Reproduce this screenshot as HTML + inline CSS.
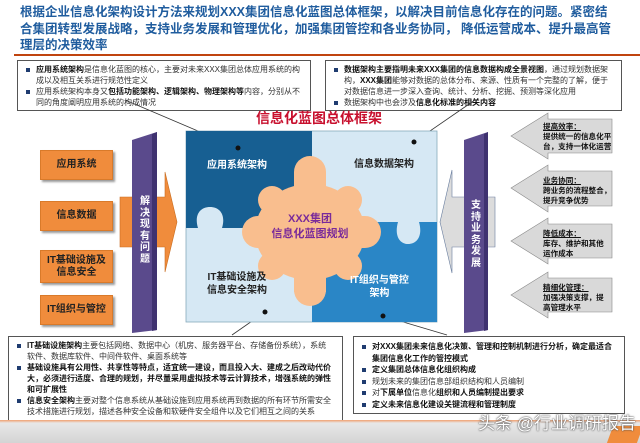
<!DOCTYPE html>
<html><head><meta charset="utf-8"><style>
*{margin:0;padding:0;box-sizing:border-box}
body{width:640px;height:443px;position:relative;background:#fff;font-family:"Liberation Sans","Noto Sans CJK SC",sans-serif;overflow:hidden}
.a{position:absolute}
.title{left:20px;top:4px;width:620px;color:#1f5c9e;font-weight:bold;font-size:12.5px;line-height:16.5px;white-space:nowrap}
.box{border:1px solid #555;background:#fff;font-size:8px;line-height:11px;color:#333;padding:3px 6px 2px 8px}
.box p{position:relative;padding-left:10px}
.box p:before{content:"";position:absolute;left:0;top:4px;width:4px;height:4px;background:#1f3c70}
b{color:#111}
.ob{background:#f08c3c;color:#222;font-weight:bold;font-size:10px;text-align:center;display:flex;align-items:center;justify-content:center;line-height:12px;box-shadow:2px 2px 2px #999;border:1px solid #d97a2a}
.rt{font-size:7.6px;line-height:10px;color:#111;font-weight:bold}
.vt{color:#fff;font-weight:bold;font-size:10px;line-height:11.5px;width:12px;text-align:center}
</style></head><body>
<div class="a title">根据企业信息化架构设计方法来规划XXX集团信息化蓝图总体框架，以解决目前信息化存在的问题。紧密结<br>合集团转型发展战略，支持业务发展和管理优化，加强集团管控和各业务协同， 降低运营成本、提升最高管<br>理层的决策效率</div>
<div class="a" style="left:14px;top:54px;width:626px;height:2px;background:#c0440f"></div>

<div class="a box" style="left:17px;top:60px;width:294px;height:51px"><p><b>应用系统架构</b>是信息化蓝图的核心，主要对未来XXX集团总体应用系统的构成以及相互关系进行规范性定义</p><p>应用系统架构本身又<b>包括功能架构、逻辑架构、物理架构等</b>内容，分别从不同的角度阐明应用系统的构成情况</p></div>
<div class="a box" style="left:325px;top:60px;width:297px;height:51px"><p><b>数据架构主要指明未来XXX集团的信息数据构成全景视图</b>，通过规划数据架构，<b>XXX集团</b>能够对数据的总体分布、来源、性质有一个完整的了解，便于对数据信息进一步深入查询、统计、分析、挖掘、预测等深化应用</p><p>数据架构中也会涉及<b>信息化标准的相关内容</b></p></div>

<div class="a" style="left:256px;top:108px;color:#c8102e;font-weight:bold;font-size:14px">信息化蓝图总体框架</div>

<svg class="a" style="left:0;top:0" width="640" height="443">
<line x1="125" y1="100" x2="238" y2="148" stroke="#333" stroke-width="0.8"/>
<line x1="475" y1="100" x2="414" y2="142" stroke="#333" stroke-width="0.8"/>
<line x1="232" y1="335" x2="265" y2="312" stroke="#333" stroke-width="0.8"/>
<line x1="447" y1="335" x2="383" y2="316" stroke="#333" stroke-width="0.8"/>
<rect x="186" y="131" width="251" height="191" fill="#d6e8f4" stroke="#8ab" stroke-width="0.8"/>
<path d="M186 131H312V228H222C226 215 220 207 210 207C200 207 194 215 198 228H186Z" fill="#175f92"/>
<path d="M312 222H398C394 236 400 244 408 244C417 244 423 236 419 222H437V322H312Z" fill="#2a86c6"/>
<circle cx="238" cy="148" r="2.5" fill="#111"/><circle cx="414" cy="142" r="2.5" fill="#111"/>
<circle cx="265" cy="312" r="2.5" fill="#111"/><circle cx="383" cy="316" r="2.5" fill="#111"/>
<g fill="#f9be8e">
<ellipse cx="310" cy="232" rx="55" ry="48"/>
<circle cx="310" cy="172" r="16"/><rect x="294" y="172" width="32" height="30"/>
<circle cx="310" cy="290" r="16"/><rect x="294" y="262" width="32" height="30"/>
<circle cx="258" cy="232" r="16"/><rect x="258" y="216" width="30" height="32"/>
<circle cx="365" cy="232" r="16"/><rect x="335" y="216" width="30" height="32"/>
<circle cx="272" cy="200" r="14"/><circle cx="348" cy="200" r="14"/><circle cx="272" cy="266" r="14"/><circle cx="348" cy="266" r="14"/>
</g>
<path d="M120 197H165V172L177 222L165 272V247H120Z" fill="#f08c3c" stroke="#c96d20" stroke-width="0.6"/>
<path d="M132 140L157 132V330L132 333Z" fill="#5a4a8c"/><path d="M152 134L157 132V330L152 331Z" fill="#3f3270"/>
<path d="M495 197H452V170L440 222L452 273V247H495Z" fill="#dcdcdc" stroke="#6a7fa0" stroke-width="0.6"/>
<path d="M464 140L488 132V330L464 333Z" fill="#5a4a8c"/><path d="M484 134L488 132V330L484 331Z" fill="#3f3270"/>
<g fill="#d9d9d9" stroke="#888" stroke-width="0.6">
<path d="M612 119H548V113L511 136L548 159V153H612Z"/>
<path d="M612 171H548V165L511 188L548 212V206H612Z"/>
<path d="M612 224H548V218L511 241L548 264V258H612Z"/>
<path d="M612 278H548V272L511 295L548 318V312H612Z"/>
</g>
</svg>
<div class="a" style="left:207px;top:156px;color:#fff;font-weight:bold;font-size:10px">应用系统架构</div>
<div class="a" style="left:354px;top:155px;color:#222;font-weight:bold;font-size:10px">信息数据架构</div>
<div class="a" style="left:207px;top:271px;color:#222;font-weight:bold;font-size:10px;text-align:center;line-height:13px">IT基础设施及<br>信息安全架构</div>
<div class="a" style="left:350px;top:274px;color:#fff;font-weight:bold;font-size:10px;text-align:center;line-height:13px">IT组织与管控<br>架构</div>
<div class="a" style="left:262px;top:212px;width:96px;color:#7a2a9a;font-weight:bold;font-size:11px;text-align:center;line-height:15px">XXX集团<br>信息化蓝图规划</div>

<div class="a ob" style="left:40px;top:150px;width:73px;height:30px">应用系统</div>
<div class="a ob" style="left:40px;top:201px;width:73px;height:30px">信息数据</div>
<div class="a ob" style="left:40px;top:250px;width:73px;height:33px">IT基础设施及<br>信息安全</div>
<div class="a ob" style="left:40px;top:295px;width:73px;height:30px">IT组织与管控</div>
<div class="a vt" style="left:139px;top:196px">解决现有问题</div>
<div class="a vt" style="left:470px;top:200px">支持业务发展</div>

<div class="a rt" style="left:543px;top:122px"><u>提高效率：</u><br>提供统一的信息化平<br>台，支持一体化运营</div>
<div class="a rt" style="left:543px;top:176px"><u>业务协同：</u><br>跨业务的流程整合，<br>提升竞争优势</div>
<div class="a rt" style="left:543px;top:229px"><u>降低成本：</u><br>库存、维护和其他<br>运作成本</div>
<div class="a rt" style="left:543px;top:283px"><u>精细化管理：</u><br>加强决策支撑，提<br>高管理水平</div>

<div class="a box" style="left:8px;top:336px;width:335px;height:96px;padding-top:3px"><p><b>IT基础设施架构</b>主要包括网络、数据中心（机房、服务器平台、存储备份系统），系统<br>软件、数据库软件、中间件软件、桌面系统等</p><p><b>基础设施具有公用性、共享性等特点，适宜统一建设，而且投入大、建成之后改动代价大，必须进行适度、合理的规划，并尽量采用虚拟技术等云计算技术，增强系统的弹性和可扩展性</b></p><p><b>信息安全架构</b>主要对整个信息系统从基础设施到应用系统再到数据的所有环节所需安全技术措施进行规划，描述各种安全设备和软硬件安全组件以及它们相互之间的关系</p></div>
<div class="a box" style="left:353px;top:336px;width:272px;height:78px;padding-top:4px;line-height:11.5px"><p><b>对XXX集团未来信息化决策、管理和控制机制进行分析，确定最适合集团信息化工作的管控模式</b></p><p><b>定义集团总体信息化组织构成</b></p><p>规划未来的集团信息部组织结构和人员编制</p><p>对<b>下属单位</b>信息化<b>组织和人员编制提出要求</b></p><p><b>定义未来信息化建设关键流程和管理制度</b></p></div>

<div class="a" style="left:0;top:420px;width:640px;height:23px;background:linear-gradient(#f0a070 0,#e8e8e8 3px,#d4d4d4 100%)"></div>
<div class="a" style="left:610px;top:426px;width:30px;height:17px;background:#f08c3c;transform:skewX(-20deg)"></div>
<div class="a" style="left:478px;top:409px;color:#fff;font-size:17px;text-shadow:0 0 2px #555,0 0 1px #333">头条 @行业调研报告</div>
</body></html>
